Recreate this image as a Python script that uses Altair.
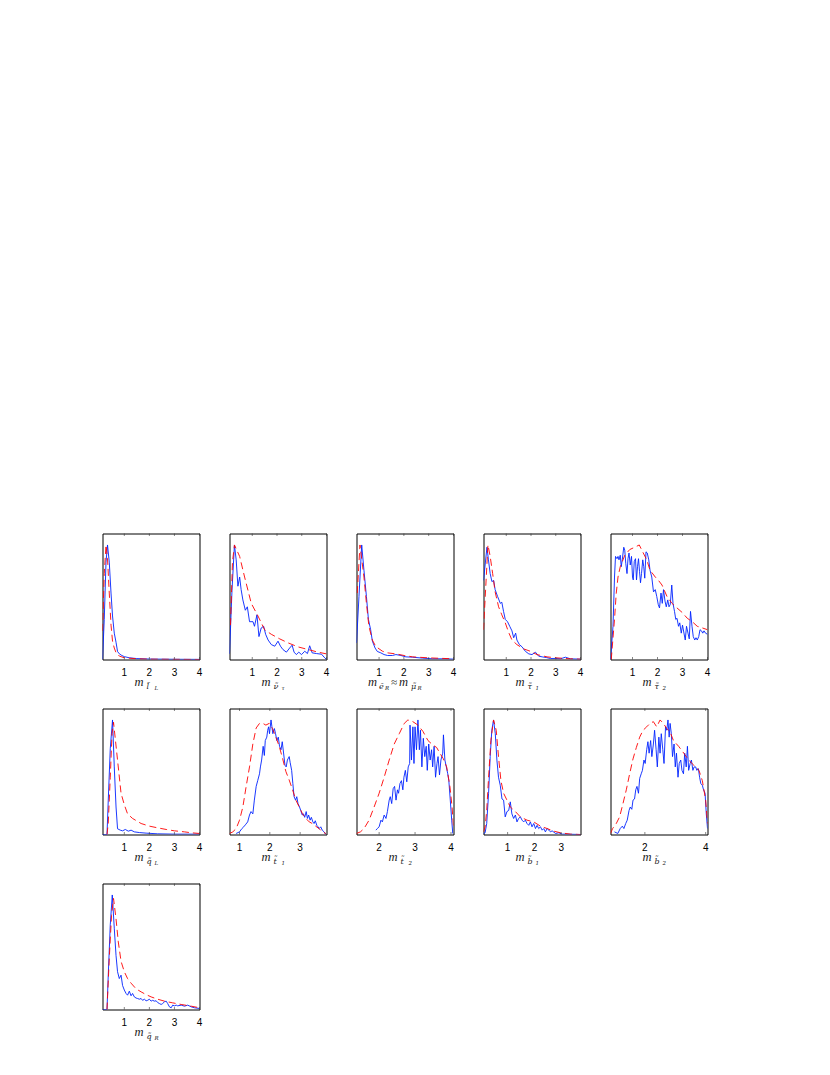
import altair as alt
import pandas as pd

# ---------------- data (mass in TeV, normalised posterior) ----------------
P1_BLUE_X = [0.13, 0.2, 0.27, 0.33, 0.4, 0.47, 0.53, 0.6, 0.67, 0.73, 0.8, 0.9, 1.0, 1.2, 1.5, 2.0, 3.0, 4.0]
P1_BLUE_Y = [0, 0.35, 0.85, 1.0, 0.85, 0.58, 0.38, 0.23, 0.15, 0.07, 0.05, 0.035, 0.025, 0.015, 0.008, 0.004, 0.002, 0.001]
P1_RED_X = [0.13, 0.2, 0.27, 0.33, 0.4, 0.47, 0.53, 0.6, 0.67, 0.8, 1.0, 1.5, 2.0, 4.0]
P1_RED_Y = [0.25, 0.75, 1.0, 0.88, 0.58, 0.3, 0.16, 0.1, 0.06, 0.03, 0.015, 0.006, 0.003, 0.0]

P2_BLUE_X = [0.08, 0.18, 0.28, 0.35, 0.42, 0.49, 0.55, 0.62, 0.72, 0.80, 0.89, 1.03, 1.09, 1.19, 1.27, 1.36, 1.46, 1.54, 1.64, 1.77,
             1.91, 2.04, 2.14, 2.24, 2.38, 2.51, 2.61, 2.69, 2.78, 2.88, 2.99, 3.12, 3.23, 3.32, 3.42, 3.59, 3.80, 3.93, 4.0]
P2_BLUE_Y = [0.05, 0.6, 1.0, 0.87, 0.64, 0.72, 0.61, 0.52, 0.43, 0.46, 0.33, 0.33, 0.29, 0.39, 0.20, 0.275, 0.29, 0.22, 0.17, 0.13,
             0.116, 0.16, 0.116, 0.087, 0.064, 0.10, 0.125, 0.064, 0.043, 0.064, 0.043, 0.072, 0.052, 0.12, 0.058, 0.052, 0.046, 0.014, 0.0]
P2_RED_X = [0.12, 0.2, 0.28, 0.49, 0.69, 0.96, 1.23, 1.5, 1.77, 2.11, 2.45, 2.85, 3.26, 3.66, 4.0]
P2_RED_Y = [0.3, 0.85, 1.0, 0.9, 0.72, 0.49, 0.38, 0.26, 0.22, 0.18, 0.145, 0.11, 0.087, 0.064, 0.049]

P3_BLUE_X = [0.09, 0.19, 0.30, 0.39, 0.49, 0.57, 0.66, 0.73, 0.84, 0.93, 1.07, 1.2, 1.34, 1.54, 1.68, 1.88, 2.08, 2.35, 2.76, 3.16, 3.7, 4.0]
P3_BLUE_Y = [0.145, 0.55, 1.0, 0.78, 0.55, 0.35, 0.26, 0.16, 0.10, 0.07, 0.058, 0.043, 0.035, 0.035, 0.043, 0.035, 0.023, 0.02, 0.012, 0.006, 0.006, 0.003]
P3_RED_X = [0.12, 0.23, 0.39, 0.49, 0.59, 0.73, 0.86, 1.0, 1.14, 1.34, 1.68, 2.01, 2.35, 3.03, 4.0]
P3_RED_Y = [0.58, 1.0, 0.72, 0.49, 0.29, 0.17, 0.116, 0.093, 0.072, 0.058, 0.049, 0.035, 0.023, 0.014, 0.006]

P4_BLUE_X = [0.08, 0.22, 0.28, 0.35, 0.42, 0.49, 0.55, 0.65, 0.76, 0.82, 0.89, 0.96, 1.05, 1.14, 1.23, 1.30, 1.38, 1.43, 1.53, 1.64,
             1.77, 1.91, 2.04, 2.18, 2.31, 2.45, 2.62, 2.78, 2.99, 3.19, 3.39, 3.59, 4.0]
P4_BLUE_Y = [0.69, 0.98, 0.87, 0.75, 0.68, 0.69, 0.61, 0.55, 0.49, 0.50, 0.42, 0.35, 0.33, 0.29, 0.25, 0.19, 0.23, 0.17, 0.13, 0.11,
             0.072, 0.049, 0.043, 0.064, 0.029, 0.023, 0.017, 0.009, 0.009, 0.006, 0.02, 0.006, 0.003]
P4_RED_X = [0.08, 0.26, 0.35, 0.45, 0.55, 0.69, 0.82, 0.96, 1.09, 1.23, 1.43, 1.70, 1.97, 2.24, 2.65, 3.05, 3.59, 4.0]
P4_RED_Y = [0.26, 1.0, 0.9, 0.75, 0.59, 0.46, 0.39, 0.32, 0.24, 0.17, 0.13, 0.093, 0.072, 0.043, 0.023, 0.014, 0.006, 0.003]

P5_BLUE_X = [0.12, 0.22, 0.28, 0.32, 0.38, 0.42, 0.46, 0.51, 0.55, 0.59, 0.65, 0.69, 0.73, 0.78, 0.82, 0.86, 0.91, 0.96, 1.0, 1.03,
             1.07, 1.12, 1.16, 1.20, 1.24, 1.28, 1.32, 1.36, 1.41, 1.45, 1.49, 1.54, 1.59, 1.65, 1.70, 1.77, 1.84, 1.91, 1.97, 2.03,
             2.08, 2.14, 2.19, 2.24, 2.30, 2.35, 2.41, 2.46, 2.51, 2.57, 2.62, 2.68, 2.73, 2.78, 2.84, 2.89, 2.95, 3.0, 3.05, 3.11,
             3.16, 3.22, 3.27, 3.32, 3.38, 3.43, 3.49, 3.54, 3.59, 3.65, 3.70, 3.76, 3.81, 3.86, 3.92, 4.0]
P5_BLUE_Y = [0, 0.29, 0.72, 0.90, 0.88, 0.90, 0.87, 0.91, 0.81, 0.87, 0.98, 0.955, 0.84, 0.75, 0.88, 0.93, 0.825, 0.90, 0.72, 0.695,
             0.855, 0.88, 0.695, 0.81, 0.88, 0.77, 0.67, 0.75, 0.87, 0.81, 0.71, 0.94, 0.93, 0.87, 0.78, 0.72, 0.59, 0.61, 0.55, 0.48,
             0.45, 0.58, 0.49, 0.61, 0.51, 0.46, 0.52, 0.46, 0.48, 0.65, 0.49, 0.42, 0.35, 0.36, 0.29, 0.32, 0.23, 0.30, 0.24, 0.17,
             0.29, 0.23, 0.18, 0.42, 0.29, 0.20, 0.17, 0.19, 0.17, 0.20, 0.26, 0.25, 0.23, 0.25, 0.23, 0.22]
P5_RED_X = [0.15, 0.28, 0.35, 0.42, 0.51, 0.69, 0.89, 1.09, 1.27, 1.43, 1.57, 1.70, 1.91, 2.04, 2.18, 2.38, 2.58, 2.78, 2.99, 3.19,
            3.39, 3.59, 3.80, 4.0]
P5_RED_Y = [0, 0.35, 0.58, 0.72, 0.81, 0.91, 0.96, 0.98, 1.0, 0.93, 0.87, 0.78, 0.72, 0.69, 0.65, 0.55, 0.49, 0.45, 0.41, 0.36,
            0.33, 0.29, 0.275, 0.26]

P6_BLUE_X = [0.13, 0.31, 0.36, 0.44, 0.53, 0.6, 0.67, 0.73, 0.84, 0.93, 1.04, 1.16, 1.27, 1.4, 1.6, 1.87, 2.33, 3.0, 4.0]
P6_BLUE_Y = [0, 0, 0.3, 0.75, 1.0, 0.59, 0.24, 0.05, 0.038, 0.032, 0.044, 0.029, 0.038, 0.023, 0.017, 0.012, 0.006, 0.003, 0.003]
P6_RED_X = [0.31, 0.36, 0.44, 0.51, 0.57, 0.73, 0.87, 1.0, 1.13, 1.33, 1.67, 2.0, 2.33, 2.67, 3.0, 3.4, 3.67, 4.0]
P6_RED_Y = [0, 0.1, 0.5, 0.88, 0.98, 0.65, 0.36, 0.26, 0.18, 0.14, 0.096, 0.073, 0.058, 0.044, 0.032, 0.023, 0.015, 0.009]

P7_BLUE_X = [0.89, 1.0, 1.08, 1.14, 1.21, 1.27, 1.33, 1.38, 1.44, 1.49, 1.55, 1.60, 1.66, 1.69, 1.73, 1.78, 1.82, 1.85, 1.90, 1.93,
             1.96, 1.99, 2.04, 2.07, 2.10, 2.15, 2.19, 2.23, 2.28, 2.32, 2.37, 2.41, 2.45, 2.50, 2.54, 2.58, 2.64, 2.67, 2.72, 2.76,
             2.80, 2.85, 2.89, 2.93, 2.98, 3.02, 3.07, 3.11, 3.15, 3.20, 3.24, 3.28, 3.33, 3.37, 3.42, 3.46, 3.50, 3.55, 3.59, 3.63,
             3.68, 3.73, 3.79, 3.85]
P7_BLUE_Y = [0.009, 0.023, 0.052, 0.067, 0.09, 0.11, 0.17, 0.20, 0.18, 0.30, 0.42, 0.47, 0.53, 0.59, 0.65, 0.77, 0.69, 0.82, 0.85, 0.91,
             0.94, 0.88, 1.0, 0.94, 0.88, 0.925, 0.88, 0.82, 0.85, 0.77, 0.74, 0.81, 0.72, 0.605, 0.59, 0.65, 0.68, 0.63, 0.56, 0.445,
             0.33, 0.30, 0.33, 0.27, 0.24, 0.21, 0.17, 0.18, 0.15, 0.20, 0.14, 0.17, 0.125, 0.15, 0.11, 0.096, 0.12, 0.08, 0.067, 0.052,
             0.067, 0.038, 0.023, 0.0]
P7_RED_X = [0.67, 0.78, 0.89, 1.0, 1.11, 1.22, 1.33, 1.44, 1.55, 1.66, 1.77, 1.87, 1.98, 2.09, 2.20, 2.31, 2.42, 2.53, 2.64, 2.75,
            2.86, 2.97, 3.08, 3.19, 3.30, 3.40, 3.51, 3.62, 3.73, 3.85]
P7_RED_Y = [0.009, 0.023, 0.052, 0.125, 0.24, 0.42, 0.59, 0.79, 0.93, 0.97, 0.97, 0.955, 0.97, 0.925, 0.85, 0.77, 0.665, 0.55, 0.475, 0.39,
            0.30, 0.24, 0.18, 0.14, 0.11, 0.096, 0.073, 0.052, 0.023, 0.009]

P8_BLUE_X = [1.91, 1.95, 2.0, 2.05, 2.09, 2.14, 2.19, 2.23, 2.28, 2.31, 2.35, 2.39, 2.43, 2.47, 2.51, 2.54, 2.58, 2.62, 2.66, 2.69,
             2.73, 2.77, 2.81, 2.85, 2.86, 2.90, 2.94, 2.97, 3.0, 3.04, 3.08, 3.12, 3.15, 3.19, 3.23, 3.27, 3.31, 3.34, 3.38, 3.42,
             3.46, 3.49, 3.53, 3.57, 3.61, 3.64, 3.68, 3.72, 3.77, 3.79, 3.83, 3.87, 3.91, 3.94, 3.98, 4.02, 4.05]
P8_BLUE_Y = [0.038, 0.052, 0.067, 0.125, 0.11, 0.17, 0.14, 0.20, 0.30, 0.33, 0.27, 0.40, 0.42, 0.30, 0.39, 0.36, 0.445, 0.47, 0.39, 0.50,
             0.56, 0.46, 0.59, 0.62, 0.955, 0.65, 0.94, 0.62, 0.94, 0.74, 1.0, 0.74, 0.91, 0.59, 0.84, 0.68, 0.77, 0.56, 0.79, 0.65,
             0.74, 0.59, 0.77, 0.50, 0.62, 0.68, 0.52, 0.65, 0.71, 0.87, 0.65, 0.59, 0.53, 0.47, 0.30, 0.125, 0.009]
P8_RED_X = [1.37, 1.48, 1.58, 1.72, 1.86, 2.0, 2.14, 2.28, 2.42, 2.56, 2.70, 2.80, 2.94, 3.08, 3.22, 3.36, 3.50, 3.60, 3.69, 3.78,
            3.88, 3.97, 4.03, 4.07]
P8_RED_Y = [0.009, 0.023, 0.052, 0.125, 0.24, 0.36, 0.50, 0.65, 0.79, 0.88, 0.97, 1.0, 0.985, 0.955, 0.90, 0.82, 0.78, 0.76, 0.71, 0.665,
            0.59, 0.42, 0.24, 0.067]

P9_BLUE_X = [0.10, 0.16, 0.22, 0.29, 0.35, 0.41, 0.475, 0.54, 0.6, 0.66, 0.725, 0.79, 0.85, 0.91, 0.975, 1.04, 1.1, 1.16, 1.225, 1.29,
             1.35, 1.41, 1.475, 1.54, 1.6, 1.66, 1.725, 1.79, 1.85, 1.91, 1.975, 2.04, 2.1, 2.16, 2.225, 2.29, 2.35, 2.41, 2.475, 2.54,
             2.6, 2.66, 2.79, 2.91, 3.04, 3.225, 3.72]
P9_BLUE_Y = [0.009, 0.015, 0.096, 0.36, 0.68, 0.91, 1.0, 0.88, 0.65, 0.50, 0.43, 0.31, 0.30, 0.154, 0.20, 0.21, 0.285, 0.18, 0.14, 0.17,
             0.11, 0.14, 0.154, 0.125, 0.11, 0.125, 0.096, 0.08, 0.11, 0.067, 0.096, 0.052, 0.08, 0.052, 0.067, 0.038, 0.052, 0.023, 0.052, 0.038,
             0.023, 0.032, 0.009, 0.015, 0.003, 0.003, 0.0]
P9_RED_X = [0.10, 0.16, 0.22, 0.29, 0.375, 0.475, 0.575, 0.66, 0.75, 0.85, 0.975, 1.1, 1.29, 1.475, 1.725, 1.975, 2.225, 2.475, 2.725, 2.975,
            3.35, 3.72]
P9_RED_Y = [0.023, 0.067, 0.21, 0.50, 0.82, 1.0, 0.91, 0.68, 0.47, 0.36, 0.30, 0.24, 0.20, 0.154, 0.125, 0.11, 0.073, 0.052, 0.029, 0.015,
            0.003, 0.0]

P10_BLUE_X = [1.0, 1.11, 1.19, 1.26, 1.31, 1.37, 1.42, 1.48, 1.52, 1.57, 1.61, 1.66, 1.7, 1.74, 1.79, 1.83, 1.88, 1.92, 1.97, 2.01,
              2.06, 2.1, 2.14, 2.19, 2.23, 2.28, 2.32, 2.37, 2.41, 2.46, 2.5, 2.54, 2.59, 2.63, 2.68, 2.72, 2.76, 2.8, 2.83, 2.87,
              2.91, 2.96, 3.0, 3.04, 3.09, 3.13, 3.18, 3.22, 3.27, 3.31, 3.36, 3.4, 3.44, 3.49, 3.53, 3.58, 3.62, 3.67, 3.71, 3.76,
              3.8, 3.84, 3.89, 3.93, 3.98, 4.02, 4.06]
P10_BLUE_Y = [0.023, 0.009, 0.052, 0.073, 0.052, 0.096, 0.125, 0.21, 0.24, 0.22, 0.30, 0.31, 0.39, 0.42, 0.36, 0.49, 0.53, 0.56, 0.65, 0.62,
              0.74, 0.81, 0.71, 0.82, 0.68, 0.79, 0.91, 0.74, 0.59, 0.85, 0.71, 0.88, 0.74, 0.62, 0.94, 0.91, 1.0, 0.85, 0.97, 0.88,
              0.68, 0.79, 0.59, 0.71, 0.50, 0.62, 0.65, 0.56, 0.53, 0.71, 0.59, 0.77, 0.56, 0.62, 0.65, 0.56, 0.59, 0.59, 0.56, 0.575,
              0.50, 0.445, 0.43, 0.39, 0.36, 0.18, 0.052]
P10_RED_X = [0.87, 0.94, 1.06, 1.17, 1.28, 1.39, 1.5, 1.61, 1.72, 1.83, 1.94, 2.06, 2.17, 2.28, 2.39, 2.5, 2.61, 2.72, 2.83, 2.94,
             3.11, 3.28, 3.44, 3.61, 3.78, 3.89, 4.0, 4.06]
P10_RED_Y = [0.009, 0.052, 0.096, 0.154, 0.27, 0.39, 0.53, 0.66, 0.76, 0.85, 0.91, 0.94, 0.97, 0.985, 0.94, 1.0, 0.97, 0.925, 0.895, 0.82,
             0.77, 0.71, 0.65, 0.605, 0.56, 0.47, 0.30, 0.096]

P11_BLUE_X = [0.13, 0.31, 0.36, 0.44, 0.52, 0.6, 0.67, 0.73, 0.8, 0.87, 0.93, 1.0, 1.07, 1.13, 1.2, 1.27, 1.33, 1.4, 1.47, 1.53,
              1.6, 1.67, 1.73, 1.8, 1.87, 1.93, 2.0, 2.07, 2.13, 2.2, 2.27, 2.33, 2.4, 2.47, 2.53, 2.6, 2.67, 2.73, 2.8, 2.87,
              2.93, 3.0, 3.07, 3.13, 3.27, 3.4, 3.53, 3.67, 3.8, 4.0]
P11_BLUE_Y = [0, 0, 0.30, 0.74, 1.0, 0.71, 0.47, 0.33, 0.27, 0.30, 0.21, 0.17, 0.14, 0.125, 0.16, 0.12, 0.14, 0.11, 0.10, 0.096,
              0.09, 0.096, 0.08, 0.09, 0.076, 0.08, 0.09, 0.073, 0.08, 0.073, 0.076, 0.061, 0.052, 0.044, 0.052, 0.067, 0.073, 0.052, 0.023, 0.015,
              0.038, 0.032, 0.038, 0.032, 0.038, 0.029, 0.038, 0.023, 0.015, 0.009]
P11_RED_X = [0.31, 0.4, 0.49, 0.57, 0.67, 0.76, 0.87, 1.0, 1.13, 1.27, 1.47, 1.67, 1.87, 2.07, 2.33, 2.6, 2.93, 3.27, 3.67, 4.0]
P11_RED_Y = [0, 0.445, 0.82, 0.97, 0.79, 0.59, 0.42, 0.33, 0.27, 0.23, 0.18, 0.154, 0.13, 0.11, 0.09, 0.073, 0.058, 0.044, 0.029, 0.015]

X_DOMAINS = [[0.13, 4.0], [0.08, 4.0], [0.09, 4.0], [0.08, 4.0], [0.12, 4.0],
             [0.13, 4.0], [0.67, 3.87], [1.37, 4.07], [0.10, 3.72], [0.87, 4.06],
             [0.13, 4.0]]
X_TICKS = [[1, 2, 3, 4], [1, 2, 3, 4], [1, 2, 3, 4], [1, 2, 3, 4], [1, 2, 3, 4],
           [1, 2, 3, 4], [1, 2, 3], [2, 3, 4], [1, 2, 3], [2, 4],
           [1, 2, 3, 4]]
# axis labels: m_{\tilde X_{sub}}
SPARTICLE = ["l\u0303", "\u03bd\u0303", None, "\u03c4\u0303", "\u03c4\u0303",
             "q\u0303", "t\u0303", "t\u0303", "b\u0303", "b\u0303", "q\u0303"]
SUBSCRIPT = ["L", "\u03c4", None, "1", "2", "L", "1", "2", "1", "2", "R"]

BLUE_X = [P1_BLUE_X, P2_BLUE_X, P3_BLUE_X, P4_BLUE_X, P5_BLUE_X, P6_BLUE_X, P7_BLUE_X, P8_BLUE_X, P9_BLUE_X, P10_BLUE_X, P11_BLUE_X]
BLUE_Y = [P1_BLUE_Y, P2_BLUE_Y, P3_BLUE_Y, P4_BLUE_Y, P5_BLUE_Y, P6_BLUE_Y, P7_BLUE_Y, P8_BLUE_Y, P9_BLUE_Y, P10_BLUE_Y, P11_BLUE_Y]
RED_X = [P1_RED_X, P2_RED_X, P3_RED_X, P4_RED_X, P5_RED_X, P6_RED_X, P7_RED_X, P8_RED_X, P9_RED_X, P10_RED_X, P11_RED_X]
RED_Y = [P1_RED_Y, P2_RED_Y, P3_RED_Y, P4_RED_Y, P5_RED_Y, P6_RED_Y, P7_RED_Y, P8_RED_Y, P9_RED_Y, P10_RED_Y, P11_RED_Y]

# ---------------- layout ----------------
W, H = 97, 126
CX = W / 2
MFONT = "Liberation Serif"
SFONT = "DejaVu Serif"
LBL_Y = H + 26


def text_piece(txt, dx, size, dy=0.0, font=SFONT):
    return alt.Chart(pd.DataFrame({"k": [0]})).mark_text(
        text=txt, font=font, fontStyle="italic", fontSize=size, color="#222",
        align="left", baseline="alphabetic"
    ).encode(x=alt.value(CX + dx), y=alt.value(LBL_Y + dy))


def label_layers(i):
    if SPARTICLE[i] is None:
        return [
            text_piece("m", -37, 12.5, font=MFONT),
            text_piece("e\u0303", -26, 8, 3),
            text_piece("R", -20, 5.5, 4.5),
            text_piece("\u2248", -14, 11, font=MFONT),
            text_piece("m", -6, 12.5, font=MFONT),
            text_piece("\u03bc\u0303", 6, 8, 3),
            text_piece("R", 12.5, 5.5, 4.5),
        ]
    return [
        text_piece("m", -16.5, 12.5, font=MFONT),
        text_piece(SPARTICLE[i], -4.5, 8, 3),
        text_piece(SUBSCRIPT[i], 3.5, 5.5, 4.5),
    ]


def panel(i):
    xs = alt.Scale(domain=X_DOMAINS[i], nice=False, zero=False)
    ys = alt.Scale(domain=[0, 1.1], nice=False)
    blue = alt.Chart(pd.DataFrame({"x": BLUE_X[i], "y": BLUE_Y[i]})).mark_line(
        color="#0022ff", strokeWidth=0.9, clip=True
    ).encode(x=alt.X("x:Q", scale=xs, axis=None), y=alt.Y("y:Q", scale=ys, axis=None))
    red = alt.Chart(pd.DataFrame({"x": RED_X[i], "y": RED_Y[i]})).mark_line(
        color="#ff0000", strokeWidth=0.9, strokeDash=[7, 4], clip=True
    ).encode(x=alt.X("x:Q", scale=xs, axis=None), y=alt.Y("y:Q", scale=ys, axis=None))
    tdf = pd.DataFrame({"t": X_TICKS[i]})
    tick_bot = alt.Chart(tdf).mark_rule(color="#333", strokeWidth=0.6).encode(
        x=alt.X("t:Q", scale=xs, axis=None), y=alt.value(H), y2=alt.value(H - 2.5))
    tick_top = alt.Chart(tdf).mark_rule(color="#333", strokeWidth=0.6).encode(
        x=alt.X("t:Q", scale=xs, axis=None), y=alt.value(0), y2=alt.value(2.5))
    tick_lbl = alt.Chart(tdf).mark_text(
        font="Liberation Sans", fontSize=10, color="#000", baseline="top", align="center"
    ).encode(x=alt.X("t:Q", scale=xs, axis=None), y=alt.value(H + 8), text=alt.Text("t:Q", format="d"))
    return alt.layer(blue, red, tick_bot, tick_top, tick_lbl, *label_layers(i)).properties(
        width=W, height=H, view=alt.ViewBackground(stroke="#000", strokeWidth=1, fill="white"))


panels = [panel(i) for i in range(11)]

chart = alt.concat(
    *panels, columns=5, spacing=alt.RowColnumber(row=49, column=30), bounds="flush"
).properties(
    padding={"left": 93.5, "top": 524.5, "right": 10, "bottom": 10}
).configure_view(stroke="#000", strokeWidth=1).configure(background="white")

chart.save("out.html", embed_options={"renderer": "svg", "actions": False})
